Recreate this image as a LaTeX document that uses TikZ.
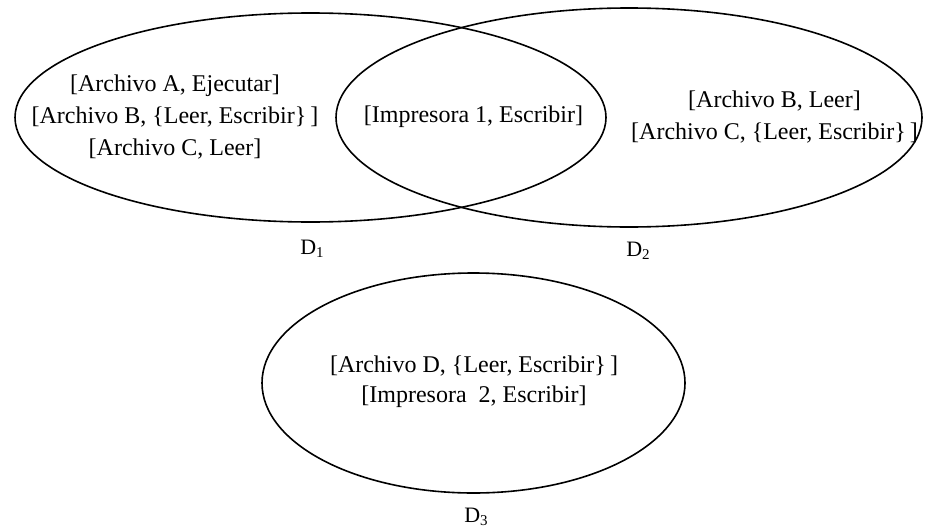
\documentclass[tikz,border=0pt]{standalone}
\usepackage{fontspec}
\setmainfont{Liberation Serif}
\usetikzlibrary{shapes.geometric}
\newcommand{\dlabel}[1]{D\raisebox{-0.35ex}{\fontsize{15}{15}\selectfont #1}}
\begin{document}
\begin{tikzpicture}[x=1pt,y=-1pt,
  domainshape/.style={draw, ellipse, line width=1.6pt, inner sep=0pt, outer sep=0pt},
  rights/.style={align=center, font=\fontsize{24}{32}\selectfont, inner sep=0pt},
  dname/.style={font=\fontsize{22}{24}\selectfont, inner sep=0pt}]
\useasboundingbox (0,0) rectangle (925,530);

% protection domains
\node[domainshape, minimum width=591pt, minimum height=209pt] (d1) at (310.5,117.5) {};
\node[domainshape, minimum width=586pt, minimum height=219pt] (d2) at (629,117.5) {};
\node[domainshape, minimum width=423pt, minimum height=220pt] (d3) at (473.5,383) {};

% access rights in each domain
\node[rights] (r1) at (175,117) {{[}Archivo A, Ejecutar]\\
  {[}Archivo B, \{Leer, Escribir\}\,]\\
  {[}Archivo C, Leer]};
\node[rights] (r12) at (473.5,117) {{[}Impresora 1, Escribir]};
\node[rights] (r2) at (774.5,117) {{[}Archivo B, Leer]\\
  {[}Archivo C, \{Leer, Escribir\}\,]};
\node[rights, font=\fontsize{24}{30}\selectfont] (r3) at (474,382) {{[}Archivo D, \{Leer, Escribir\}\,]\\
  {[}Impresora\ \ 2, Escribir]};

% domain names
\node[dname] (n1) at (312,249) {\dlabel{1}};
\node[dname] (n2) at (638,251) {\dlabel{2}};
\node[dname] (n3) at (476,517) {\dlabel{3}};
\end{tikzpicture}
\end{document}
